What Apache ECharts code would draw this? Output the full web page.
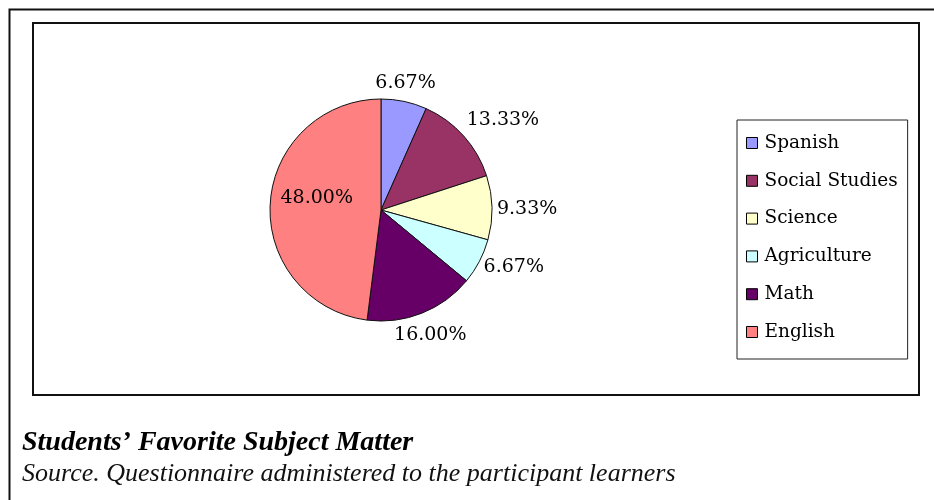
<!DOCTYPE html>
<html>
<head>
<meta charset="utf-8">
<script src="https://cdn.jsdelivr.net/npm/echarts@6/dist/echarts.min.js"></script>
<style>
html,body{margin:0;padding:0;background:#fff;}
#chart{width:934px;height:500px;}
</style>
</head>
<body>
<div id="chart"></div>
<script>
const categories = ['Spanish', 'Social Studies', 'Science', 'Agriculture', 'Math', 'English'];
const percentages = [6.67, 13.33, 9.33, 6.67, 16.00, 48.00];
const colors = ['#9999FF', '#993366', '#FFFFCC', '#CCFFFF', '#660066', '#FF8080'];
const chartTitle = 'Students\u2019 Favorite Subject Matter';
const chartSource = 'Source. Questionnaire administered to the participant learners';

const CX = 381, CY = 210, R = 111;
const total = percentages.reduce((a, b) => a + b, 0);
const midAngles = [];
let acc = 0;
percentages.forEach(v => { midAngles.push((acc + v / 2) / total * 2 * Math.PI); acc += v; });
const insideIndex = percentages.indexOf(Math.max(...percentages));
const clamp01 = v => Math.max(0, Math.min(1, v));

const chart = echarts.init(document.getElementById('chart'), null, {renderer: 'canvas'});
chart.setOption({
  backgroundColor: '#ffffff',
  animation: false,
  legend: {
    orient: 'vertical',
    left: 737,
    top: 120,
    padding: [13, 10, 17, 9],
    itemGap: 17.8,
    itemWidth: 11,
    itemHeight: 11,
    icon: 'rect',
    borderColor: '#222',
    borderWidth: 1,
    itemStyle: {borderColor: '#000', borderWidth: 1},
    textStyle: {fontFamily: 'DejaVu Serif', fontSize: 18.5, color: '#000', lineHeight: 20, padding: [0, 0, 0, 2]},
    data: categories
  },
  graphic: [
    {type: 'rect', shape: {x: 9.5, y: 9.5, width: 940, height: 500}, style: {fill: 'none', stroke: '#111', lineWidth: 2}, silent: true},
    {type: 'rect', shape: {x: 33, y: 23, width: 886, height: 372}, style: {fill: 'none', stroke: '#111', lineWidth: 2}, silent: true},
    {type: 'text', x: 22, y: 442.5, style: {text: chartTitle, font: 'italic bold 28px "Liberation Serif"', fill: '#000', verticalAlign: 'middle', align: 'left'}, silent: true},
    {type: 'text', x: 22, y: 474, style: {text: chartSource, font: 'italic 26px "Liberation Serif"', fill: '#111', verticalAlign: 'middle', align: 'left'}, silent: true}
  ],
  series: [{
    type: 'pie',
    center: [CX, CY],
    radius: R,
    startAngle: 90,
    clockwise: true,
    avoidLabelOverlap: false,
    itemStyle: {borderColor: '#111', borderWidth: 1},
    emphasis: {disabled: true},
    label: {
      show: true,
      position: 'outside',
      formatter: p => percentages[p.dataIndex].toFixed(2) + '%',
      fontFamily: 'DejaVu Serif',
      fontSize: 19,
      color: '#000'
    },
    labelLine: {show: false},
    labelLayout: function (params) {
      const i = params.dataIndex;
      const a = midAngles[i];
      const ux = Math.sin(a), uy = -Math.cos(a);
      const w = params.labelRect.width, h = params.labelRect.height;
      if (i === insideIndex) {
        const d = 0.58 * R;
        return {x: CX + d * ux, y: CY + d * uy - 8, align: 'center', verticalAlign: 'middle'};
      }
      const d = R + 7;
      const ox = Math.sign(ux) * (w / 2 - 2) * clamp01((Math.abs(ux) - 0.3) / 0.4);
      const oy = Math.sign(uy) * (h / 2 + 4) * clamp01((Math.abs(uy) - 0.5) / 0.17) + 2;
      return {x: CX + d * ux + ox, y: CY + d * uy + oy, align: 'center', verticalAlign: 'middle'};
    },
    data: categories.map((c, i) => ({name: c, value: percentages[i], itemStyle: {color: colors[i]}}))
  }]
});
</script>
</body>
</html>
